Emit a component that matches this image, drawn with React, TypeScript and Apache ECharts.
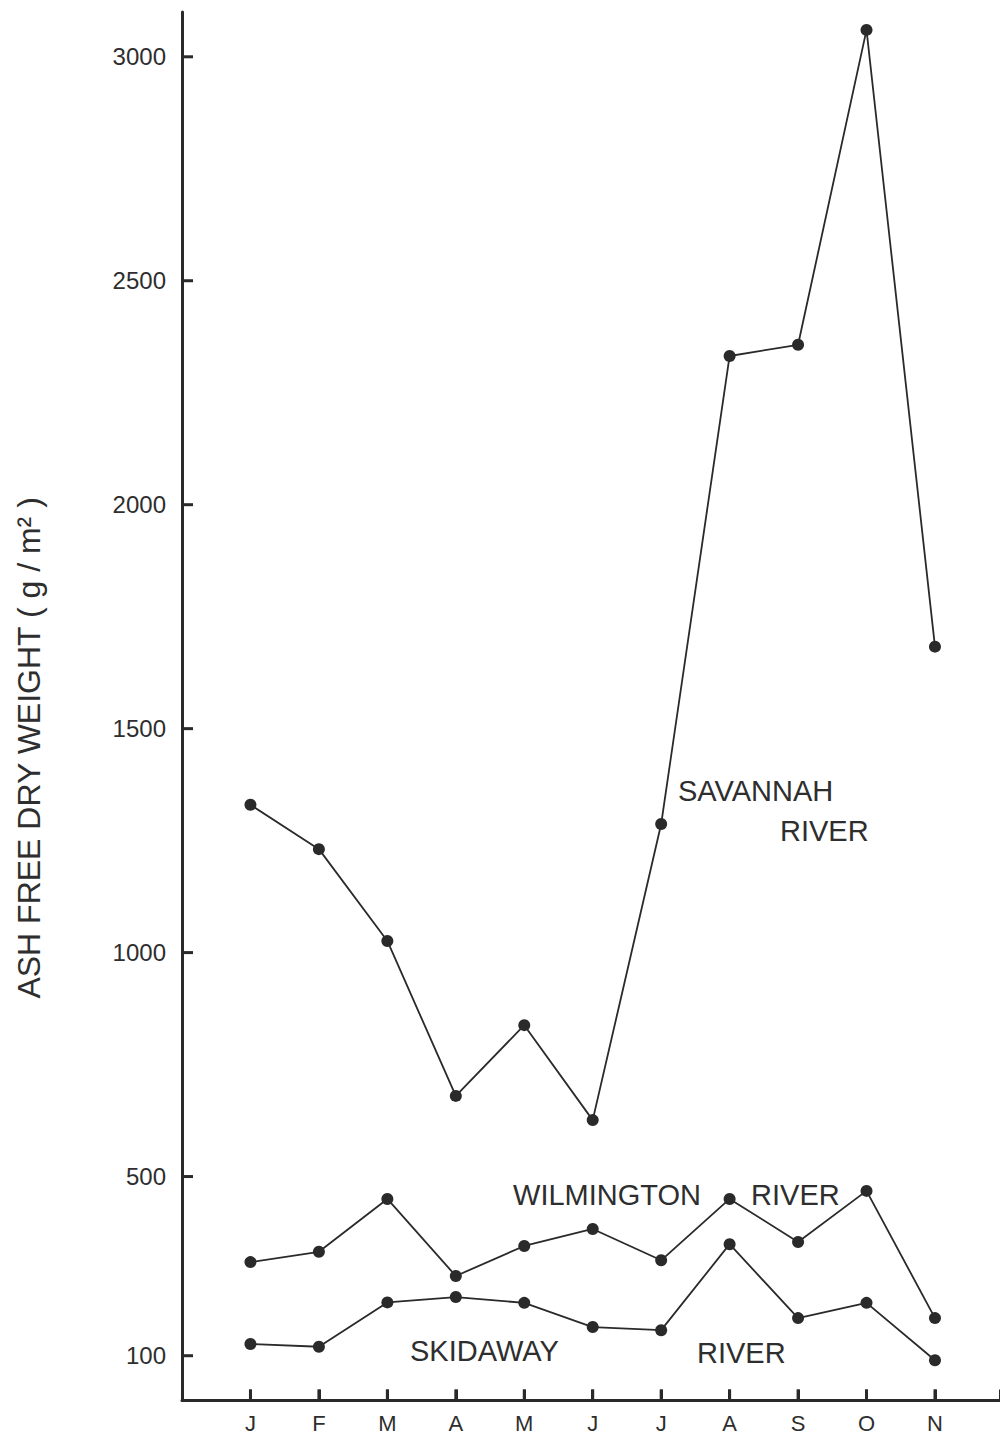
import React, { useEffect, useRef } from "react";
import * as echarts from "echarts";

const months = ["J", "F", "M", "A", "M", "J", "J", "A", "S", "O", "N"];
const monthPos = [1, 2, 3, 4, 5, 6, 7, 8, 9, 10, 11];
const savannah = [1330, 1231, 1026, 680, 838, 626, 1287, 2332, 2357, 3060, 1683];
const wilmington = [309, 332, 450, 278, 345, 383, 313, 450, 354, 468, 184];
const skidaway = [126, 120, 219, 231, 218, 164, 157, 349, 184, 218, 90];
const yTicks = [100, 500, 1000, 1500, 2000, 2500, 3000];

// annotation anchors in data units (month index, g/m²)
const notes: [string, number, number][] = [
  ["SAVANNAH", 7.246, 1361],
  ["RIVER", 8.736, 1271],
  ["WILMINGTON", 4.836, 459],
  ["RIVER", 8.313, 459],
  ["SKIDAWAY", 3.331, 110],
  ["RIVER", 7.524, 106],
];
const yTitle = "ASH FREE DRY WEIGHT ( g / m² )";
const yTitleAnchor = [-2.235, 1457];

const FONT = "Liberation Sans";
const INK = "#2a2a2a";
const TEXT = "#2e2e2e";
const TICK_LEN = 11;
const TICK_W = 3;

function toPairs(vals: number[]) {
  return vals.map((v, i) => [monthPos[i], v]);
}

export default function App() {
  const ref = useRef<HTMLDivElement>(null);
  useEffect(() => {
    if (!ref.current) return;
    const chart = echarts.init(ref.current, undefined, { renderer: "svg" });
    const lineSeries = (name: string, vals: number[]) => ({
      name,
      type: "line",
      data: toPairs(vals),
      symbol: "circle",
      symbolSize: 12,
      lineStyle: { color: INK, width: 1.8 },
      itemStyle: { color: INK },
      z: 3,
    });
    const yTickSeries = {
      type: "custom",
      silent: true,
      clip: false,
      z: 6,
      data: yTicks.map((v) => [0, v]),
      renderItem: (_p: any, api: any) => {
        const pt = api.coord([0, api.value(1)]);
        return {
          type: "rect",
          shape: { x: pt[0], y: pt[1] - TICK_W / 2, width: TICK_LEN, height: TICK_W },
          style: { fill: INK, opacity: 1 },
        };
      },
    };
    const xTickSeries = {
      type: "custom",
      silent: true,
      clip: false,
      z: 6,
      data: monthPos.map((m) => [m, 0]),
      renderItem: (_p: any, api: any) => {
        const pt = api.coord([api.value(0), 0]);
        return {
          type: "rect",
          shape: { x: pt[0] - TICK_W / 2, y: pt[1] - TICK_LEN, width: TICK_W, height: TICK_LEN },
          style: { fill: INK, opacity: 1 },
        };
      },
    };
    const noteSeries = {
      type: "scatter",
      silent: true,
      clip: false,
      symbolSize: 0,
      z: 4,
      itemStyle: { opacity: 1, color: TEXT },
      data: notes.map(([t, x, y]) => ({ value: [x, y], name: t })),
      label: {
        show: true,
        position: "right",
        distance: 0,
        formatter: (p: any) => p.name,
        fontFamily: FONT,
        fontSize: 29,
        color: TEXT,
        opacity: 1,
        verticalAlign: "middle",
      },
    };
    const titleSeries = {
      type: "scatter",
      silent: true,
      clip: false,
      symbolSize: 0,
      z: 4,
      itemStyle: { opacity: 1, color: TEXT },
      data: [{ value: yTitleAnchor, name: yTitle }],
      label: {
        show: true,
        position: "inside",
        rotate: 90,
        formatter: (p: any) => p.name,
        fontFamily: FONT,
        fontSize: 32,
        color: TEXT,
        opacity: 1,
        align: "center",
        verticalAlign: "middle",
      },
    };
    chart.setOption({
      animation: false,
      backgroundColor: "#fff",
      grid: { left: 182, right: 0, top: 12, bottom: 38.5 },
      xAxis: {
        type: "value",
        min: 0,
        max: 11.95,
        interval: 1,
        axisLine: { lineStyle: { color: INK, width: 3 } },
        axisTick: {
          show: true,
          inside: true,
          length: TICK_LEN,
          lineStyle: { color: INK, width: TICK_W },
        },
        axisLabel: {
          customValues: monthPos,
          formatter: (v: number) => months[Math.round(v) - 1] ?? "",
          fontFamily: FONT,
          fontSize: 22,
          color: TEXT,
          margin: 12,
        },
        splitLine: { show: false },
      },
      yAxis: {
        type: "value",
        min: 0,
        max: 3100,
        interval: 500,
        axisLine: { show: true, lineStyle: { color: INK, width: 3 } },
        axisTick: { show: false },
        axisLabel: {
          customValues: yTicks,
          formatter: (v: number) => String(v),
          fontFamily: FONT,
          fontSize: 24,
          color: TEXT,
          margin: 16,
        },
        splitLine: { show: false },
      },
      series: [
        lineSeries("Savannah River", savannah),
        lineSeries("Wilmington River", wilmington),
        lineSeries("Skidaway River", skidaway),
        yTickSeries,
        xTickSeries,
        noteSeries,
        titleSeries,
      ],
    });
    return () => chart.dispose();
  }, []);
  return (
    <div
      ref={ref}
      style={{ position: "absolute", left: 0, top: 0, width: 1000, height: 1439 }}
    />
  );
}
